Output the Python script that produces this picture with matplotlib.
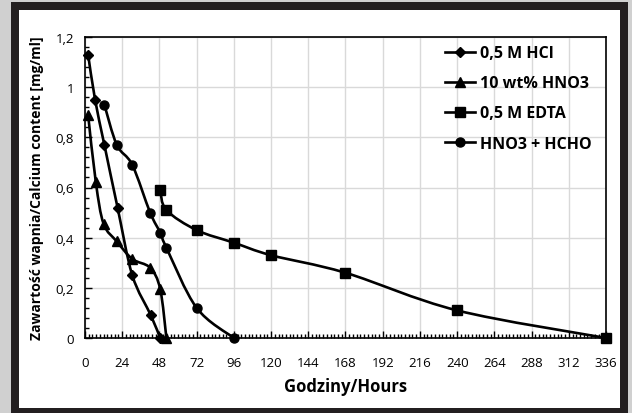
import numpy as np
import matplotlib
matplotlib.use("Agg")
import matplotlib.pyplot as plt
from matplotlib.path import Path
from matplotlib.patches import PathPatch, Rectangle
from matplotlib.lines import Line2D
from matplotlib.ticker import MultipleLocator

plt.rcParams['font.family'] = ['Open Sans', 'DejaVu Sans']

# data
hcl_h = [2, 6.5, 12.5, 21, 30.5, 42.5, 48.5]
hcl_ca = [1.13, 0.95, 0.77, 0.52, 0.25, 0.09, 0.0]

hno3_h = [2, 7, 12, 20.5, 30.5, 42, 48.5, 52.5]
hno3_ca = [0.89, 0.62, 0.455, 0.385, 0.315, 0.28, 0.195, 0.0]

edta_h = [48.5, 52.5, 72, 96, 120, 168, 240, 336]
edta_ca = [0.59, 0.51, 0.43, 0.38, 0.33, 0.26, 0.11, 0.0]

hcho_h = [12.5, 20.5, 30.5, 42, 48.5, 52.5, 72, 96]
hcho_ca = [0.93, 0.77, 0.69, 0.5, 0.42, 0.36, 0.12, 0.0]

labels = ["0,5 M HCl", "10 wt% HNO3", "0,5 M EDTA", "HNO3 + HCHO"]
markers = ["D", "^", "s", "o"]
msizes = [5, 7, 7, 6.5]


def smooth_path(x, y):
    # excel-like smoothed line: bezier segments through the points
    p = np.column_stack([x, y]).astype(float)
    verts = [p[0]]
    codes = [Path.MOVETO]
    n = len(p)
    for i in range(n - 1):
        p0 = p[i - 1] if i > 0 else p[i]
        p3 = p[i + 2] if i + 2 < n else p[i + 1]
        c1 = p[i] + (p[i + 1] - p0) / 6
        c2 = p[i + 1] - (p3 - p[i]) / 6
        verts += [c1, c2, p[i + 1]]
        codes += [Path.CURVE4] * 3
    return Path(verts, codes)


fig = plt.figure(figsize=(6.32, 4.14), dpi=100)
fig.patch.set_facecolor('#d0d0d0')
W, H = 632, 414
fig.patches.append(Rectangle((11 / W, 0), 617 / W, 411 / H, transform=fig.transFigure,
                             facecolor='#231f20', edgecolor='none', zorder=-2))
fig.patches.append(Rectangle((19 / W, 5 / H), 601 / W, 398 / H, transform=fig.transFigure,
                             facecolor='white', edgecolor='none', zorder=-1))

ax = fig.add_axes([85 / W, 1 - 339 / H, 521 / W, 301 / H])
ax.set_facecolor('none')

series = [(hcl_h, hcl_ca), (hno3_h, hno3_ca), (edta_h, edta_ca), (hcho_h, hcho_ca)]
handles = []
for (x, y), lab, m, ms in zip(series, labels, markers, msizes):
    ax.add_patch(PathPatch(smooth_path(x, y), facecolor='none', edgecolor='black',
                           lw=1.9, zorder=3, clip_on=False))
    ax.plot(x, y, ls='none', marker=m, ms=ms, color='black', zorder=4, clip_on=False)
    handles.append(Line2D([], [], color='black', lw=1.9, marker=m, ms=ms, label=lab))

ax.set_xlim(0, 336)
ax.set_ylim(0, 1.2)
ax.xaxis.set_major_locator(MultipleLocator(24))
ax.xaxis.set_minor_locator(MultipleLocator(2.4))
ax.yaxis.set_major_locator(MultipleLocator(0.2))
ax.yaxis.set_minor_locator(MultipleLocator(0.04))
ax.set_yticks(np.arange(0, 1.21, 0.2))
ax.set_yticklabels(["0", "0,2", "0,4", "0,6", "0,8", "1", "1,2"])
ax.grid(which='major', color='#d9d9d9', lw=1)
ax.set_axisbelow(True)
ax.tick_params(which='both', direction='in', color='black', labelsize=9.5)
ax.tick_params(which='major', length=5, width=1, pad=8)
ax.tick_params(which='minor', length=3, width=1)
ax.tick_params(axis='x', pad=13)
for s in ax.spines.values():
    s.set_linewidth(1.2)
    s.set_color('black')

ax.set_xlabel("Godziny/Hours", fontsize=12, fontweight='bold', labelpad=6)
ax.set_ylabel("Zawartość wapnia/Calcium content [mg/ml]", fontsize=10, fontweight='bold', labelpad=8)

leg = ax.legend(handles=handles, loc='upper right', bbox_to_anchor=(1.0, 1.02), frameon=False,
                prop={'weight': 'bold', 'size': 11.5}, handlelength=1.9, handletextpad=0.3,
                labelspacing=0.88)

fig.savefig("out.png", dpi=100, facecolor=fig.get_facecolor())
